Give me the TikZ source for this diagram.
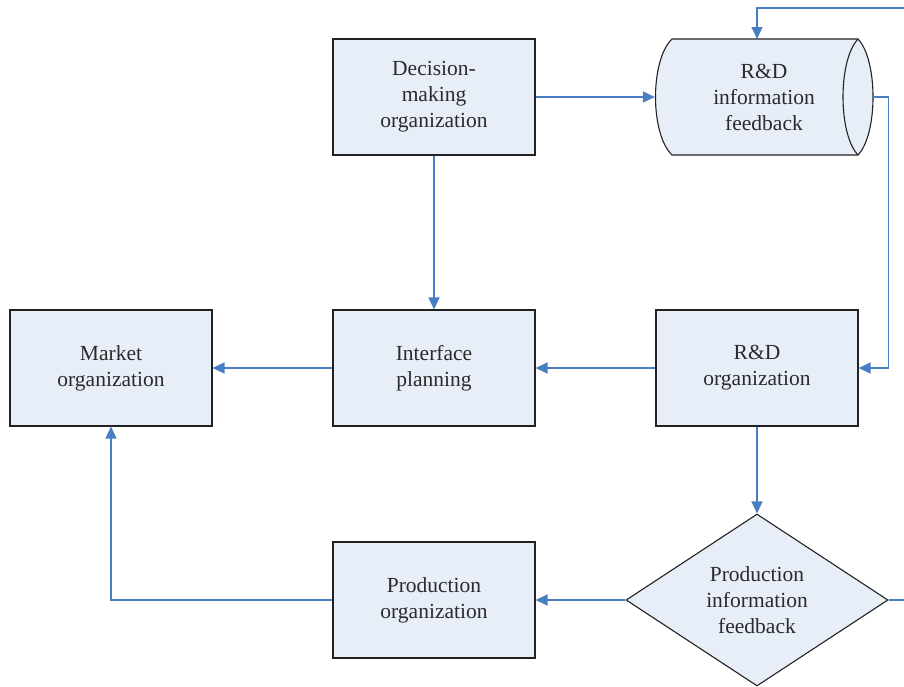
\documentclass[tikz,border=0pt]{standalone}
\usepackage{fontspec}
\setmainfont{Liberation Serif}
\usetikzlibrary{arrows.meta,shapes.geometric}
\definecolor{boxfill}{HTML}{E8EEF8}
\definecolor{conn}{HTML}{4A7EC2}
\definecolor{edge}{HTML}{222222}
\definecolor{ink}{HTML}{2A2A2A}
\tikzset{
  txt/.style={font=\fontsize{21.5}{26}\selectfont, text=ink, align=center},
  boxnode/.style={txt, draw=edge, fill=boxfill, line width=1.1pt, minimum width=202pt, minimum height=116pt, inner sep=0pt},
  conline/.style={draw=conn, line width=1.2pt, -{Triangle[length=12pt,width=11pt]}},
  plainline/.style={draw=conn, line width=1.2pt}
}
\begin{document}
\begin{tikzpicture}[x=1pt,y=-1pt]
\useasboundingbox (0,0) rectangle (904,686);
% boxes
\node[boxnode] (dec) at (434,97) {Decision-\\making\\organization};
\node[boxnode] (mkt) at (111,368) {Market\\organization};
\node[boxnode] (ifp) at (434,368) {Interface\\planning};
\node[boxnode] (rdo) at (757,368) {R\&D\\organization};
\node[boxnode] (pro) at (434,600) {Production\\organization};
% cylinder
\path[draw=edge, fill=boxfill, line width=1.1pt]
  (672,39) -- (858,39) .. controls (878,60) and (878,134) .. (858,155)
  -- (672,155) .. controls (650,134) and (650,60) .. (672,39) -- cycle;
\draw[edge, line width=1.1pt] (858,39) .. controls (838,60) and (838,134) .. (858,155);
\node[txt, minimum width=218pt, minimum height=116pt, inner sep=0pt] (rdf) at (764,97) {R\&D\\information\\feedback};
% diamond
\node[txt, diamond, draw=edge, fill=boxfill, line width=1.1pt, inner sep=0pt,
  minimum width=262pt, minimum height=172pt, shape aspect=1.52] (pif) at (757,600) {Production\\information\\feedback};
% connectors
\coordinate (topin) at (904,8);
\coordinate (rdftop) at (757,39);
\coordinate (pifout) at (904,600);
\draw[conline] (dec.east) -- (rdf.west);
\draw[conline] (topin) -| (rdftop);
\draw[conline] (rdf.east) -- ++(15,0) |- (rdo.east);
\draw[conline] (dec.south) -- (ifp.north);
\draw[conline] (ifp.west) -- (mkt.east);
\draw[conline] (rdo.west) -- (ifp.east);
\draw[conline] (rdo.south) -- (pif.north);
\draw[conline] (pif.west) -- (pro.east);
\draw[conline] (pro.west) -| (mkt.south);
\draw[plainline] (pif.east) -- (pifout);
\end{tikzpicture}
\end{document}
